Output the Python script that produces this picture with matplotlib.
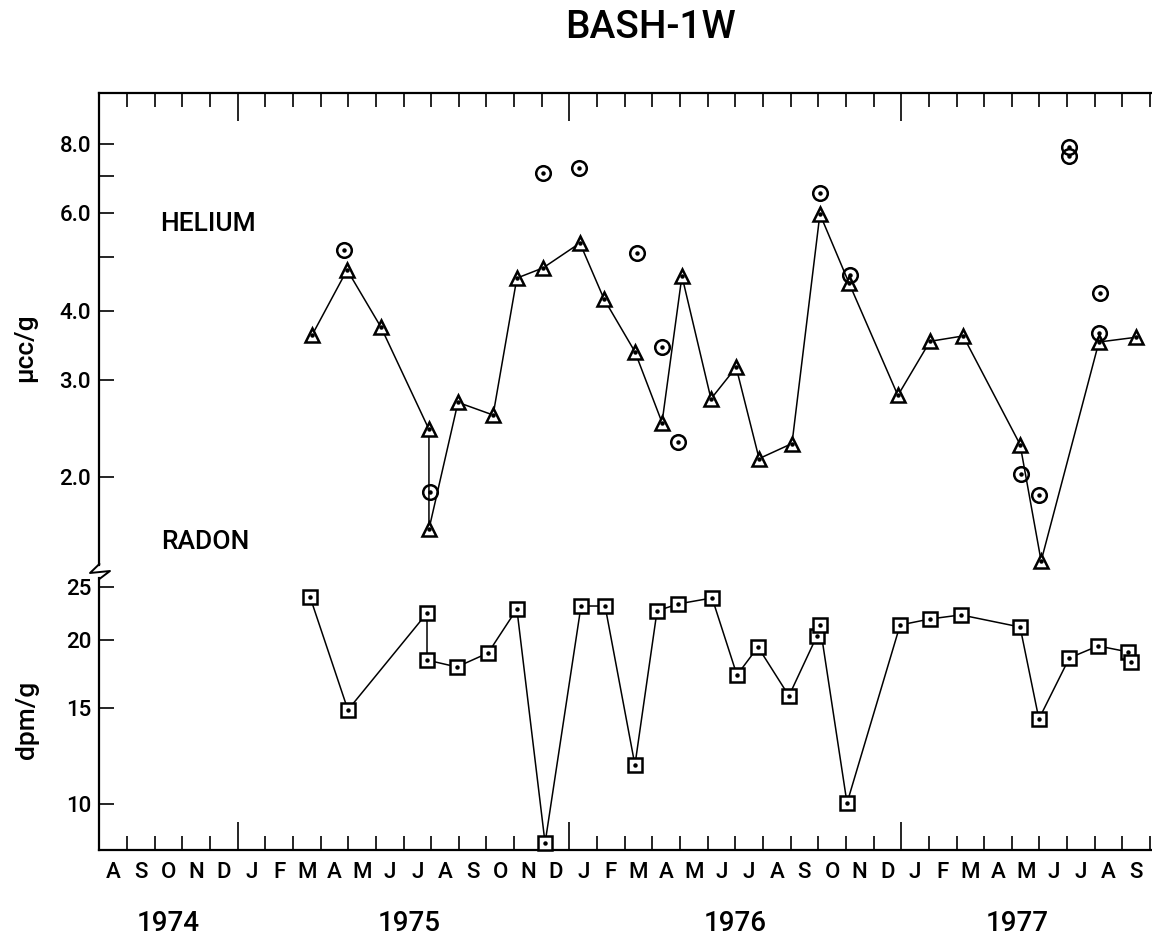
import matplotlib
matplotlib.use('Agg')
import matplotlib.pyplot as plt
from matplotlib.lines import Line2D
from matplotlib.ticker import FixedLocator, NullFormatter, NullLocator

plt.rcParams['font.family'] = ['Roboto', 'DejaVu Sans']
plt.rcParams['font.weight'] = 'medium'

# ---------------- data (x = months since 1 Aug 1974) ----------------
month_labels = list("ASONDJFMAMJJASONDJFMAMJJASONDJFMAMJJAS")
year_labels = ['1974', '1975', '1976', '1977']

# Helium, connected series (triangles), micro-cc/g
he_x = [7.69, 8.96, 10.19, 11.92, 11.92, 12.97, 14.24, 15.10, 16.05, 17.38,
        18.25, 19.37, 20.35, 21.07, 22.12, 23.03, 23.86, 25.05, 26.06, 27.11,
        28.88, 30.04, 31.24, 33.30, 34.06, 36.15, 37.49]
he_y = [3.61, 4.74, 3.73, 2.44, 1.61, 2.73, 2.59, 4.58, 4.78, 5.30,
        4.20, 3.37, 2.51, 4.62, 2.77, 3.16, 2.16, 2.30, 5.98, 4.49,
        2.81, 3.52, 3.60, 2.29, 1.41, 3.51, 3.58]

# Helium, separate samples (circles)
he2_x = [8.85, 11.96, 16.05, 17.35, 19.44, 20.35, 20.93, 26.06, 27.15,
         33.33, 33.98, 35.08, 35.08, 36.19, 36.15]
he2_y = [5.15, 1.88, 7.09, 7.24, 5.08, 3.44, 2.31, 6.53, 4.64,
         2.03, 1.86, 7.90, 7.61, 4.30, 3.64]

# Radon (squares), dpm/g
rn_x = [7.62, 8.99, 11.85, 11.85, 12.93, 14.06, 15.10, 16.12, 17.42, 18.29,
        19.37, 20.17, 20.93, 22.16, 23.06, 23.82, 24.94, 25.95, 26.06, 27.04,
        28.96, 30.04, 31.16, 33.30, 33.98, 35.08, 36.12, 37.21, 37.31]
rn_y = [23.98, 14.88, 22.40, 18.37, 17.84, 18.93, 22.79, 8.48, 23.08, 23.08,
        11.79, 22.61, 23.28, 23.88, 17.24, 19.41, 15.79, 20.33, 21.30, 10.04,
        21.30, 21.85, 22.23, 21.12, 14.32, 18.53, 19.50, 19.01, 18.22]

he_ticks = [2, 3, 4, 6, 8]
he_ticklabels = ['2.0', '3.0', '4.0', '6.0', '8.0']
he_minor = [5, 7]
rn_ticks = [10, 15, 20, 25]
rn_ticklabels = ['10', '15', '20', '25']
year_bounds = [5, 17, 29]

# ---------------- figure ----------------
W, H = 1152, 936
fig = plt.figure(figsize=(W / 100, H / 100), dpi=100)

def fx(px):
    return px / W

def fy(py):
    return 1 - py / H

left_px, right_px = 99.35, 1152
top_axes = fig.add_axes([fx(left_px), fy(565), fx(right_px - left_px), (565 - 93) / H])
bot_axes = fig.add_axes([fx(left_px), fy(850), fx(right_px - left_px), (850 - 578) / H])

xlim = (0, 38.07)
spine_lw = 1.6

for ax in (top_axes, bot_axes):
    ax.set_xlim(*xlim)
    ax.set_yscale('log')
    ax.spines['right'].set_visible(False)
    for s in ax.spines.values():
        s.set_linewidth(spine_lw)
    month_bounds = [m for m in range(1, 39) if m not in year_bounds]
    ax.xaxis.set_major_locator(FixedLocator(year_bounds))
    ax.xaxis.set_minor_locator(FixedLocator(month_bounds))
    ax.xaxis.set_major_formatter(NullFormatter())
    ax.xaxis.set_minor_formatter(NullFormatter())
    ax.tick_params(axis='x', which='major', direction='in', length=20, width=1.2)
    ax.tick_params(axis='x', which='minor', direction='in', length=10, width=1.2)
    ax.tick_params(axis='y', which='both', direction='in', length=11, width=1.2,
                   labelsize=16, pad=6)

# top (helium)
top_axes.spines['bottom'].set_visible(False)
top_axes.xaxis.set_ticks_position('top')
top_axes.set_ylim(1.387, 9.90)
top_axes.yaxis.set_major_locator(FixedLocator(he_ticks))
top_axes.set_yticklabels(he_ticklabels)
top_axes.yaxis.set_minor_locator(FixedLocator(he_minor))
top_axes.yaxis.set_minor_formatter(NullFormatter())

# bottom (radon)
bot_axes.spines['top'].set_visible(False)
bot_axes.xaxis.set_ticks_position('bottom')
bot_axes.set_ylim(8.234, 25.98)
bot_axes.yaxis.set_major_locator(FixedLocator(rn_ticks))
bot_axes.set_yticklabels(rn_ticklabels)
bot_axes.yaxis.set_minor_locator(NullLocator())

for ax in (top_axes, bot_axes):
    ax.set_facecolor('none')

# data
line_kw = dict(color='black', lw=1.1, clip_on=False)
top_axes.plot(he_x, he_y, marker='^', ms=10.5, mew=1.8, mfc='white', mec='black',
              zorder=3, **line_kw)
top_axes.plot(he_x, he_y, ls='none', marker='o', ms=2.2, color='black', zorder=4, clip_on=False)
top_axes.plot(he2_x, he2_y, ls='none', marker='o', ms=10.5, mew=1.8, mfc='none',
              mec='black', zorder=5, clip_on=False)
top_axes.plot(he2_x, he2_y, ls='none', marker='o', ms=2.2, color='black', zorder=5, clip_on=False)

bot_axes.plot(rn_x, rn_y, marker='s', ms=9.5, mew=1.8, mfc='white', mec='black',
              zorder=3, **line_kw)
bot_axes.plot(rn_x, rn_y, ls='none', marker='o', ms=2.2, color='black', zorder=4, clip_on=False)

# month and year labels
for i, lab in enumerate(month_labels):
    bot_axes.annotate(lab, xy=(i + 0.5, 0), xycoords=('data', 'axes fraction'),
                      xytext=(0, -9), textcoords='offset points',
                      ha='center', va='top', fontsize=16)
year_pos = [2.5, 11.2, 23.0, 33.2]
for yp, lab in zip(year_pos, year_labels):
    bot_axes.annotate(lab, xy=(yp, 0), xycoords=('data', 'axes fraction'),
                      xytext=(0, -43), textcoords='offset points',
                      ha='center', va='top', fontsize=20)

# axis break zigzag on left spine
zz_x = [99.35, 90, 110, 99.35]
zz_y = [564, 573, 571, 579]
fig.add_artist(Line2D([fx(v) for v in zz_x], [fy(v) for v in zz_y],
                      transform=fig.transFigure, color='black', lw=1.4))

# texts
fig.text(fx(650), fy(27), 'BASH-1W', ha='center', va='center', fontsize=28)
fig.text(fx(208), fy(224), 'HELIUM', ha='center', va='center', fontsize=19)
fig.text(fx(205), fy(542), 'RADON', ha='center', va='center', fontsize=19)
fig.text(fx(25), fy(348), 'μcc/g', ha='center', va='center', rotation=90, fontsize=19)
fig.text(fx(27), fy(720), 'dpm/g', ha='center', va='center', rotation=90, fontsize=19)

fig.savefig('out.png', dpi=100)
